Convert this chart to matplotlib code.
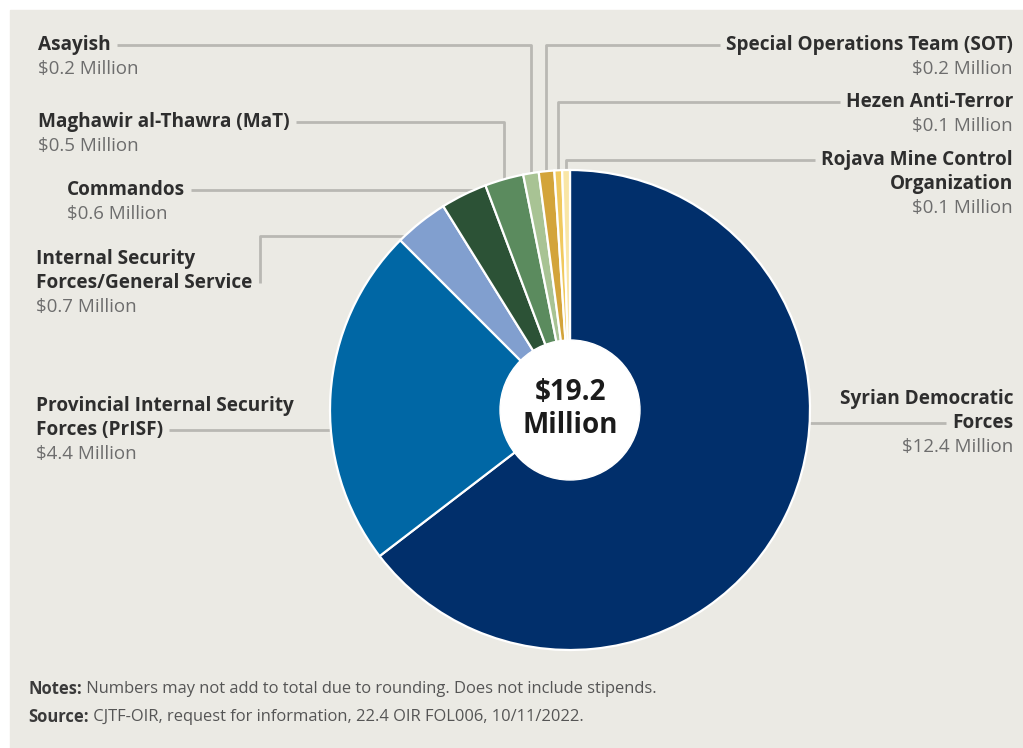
import matplotlib.pyplot as plt
from matplotlib.patches import Rectangle, Circle
import numpy as np

W, H = 1023, 748
plt.rcParams['font.family'] = ['Open Sans', 'DejaVu Sans']

# data, clockwise from the top
groups = [
    ["Syrian Democratic", "Forces"],
    ["Provincial Internal Security", "Forces (PrISF)"],
    ["Internal Security", "Forces/General Service"],
    ["Commandos"],
    ["Maghawir al-Thawra (MaT)"],
    ["Asayish"],
    ["Special Operations Team (SOT)"],
    ["Hezen Anti-Terror"],
    ["Rojava Mine Control", "Organization"],
]
values = [12.4, 4.4, 0.7, 0.6, 0.5, 0.2, 0.2, 0.1, 0.1]
total_label = "$19.2\nMillion"
colors = ["#012f6b", "#0067a5", "#819fcf", "#2c5236", "#5b8b5e",
          "#a8c394", "#d3a43a", "#f0c95e", "#f9e6a6"]

# label layout (pixels from top-left): side, x, first line y, connector kind, attach line
layout = [
    ("right", 1013, 399, "h", 1),
    ("left", 36, 406, "h", 1),
    ("left", 36, 259, "hook", 1),
    ("left", 67, 190, "h", 0),
    ("left", 38, 122, "v", 0),
    ("left", 38, 45, "v", 0),
    ("right", 1013, 45, "v", 0),
    ("right", 1013, 102, "v", 0),
    ("right", 1013, 160, "v", 0),
]
hook_y = 236
cx, cy, rad = 570, 410, 240
lh = 24

bg = "#ebeae4"
line_c = "#b9b8b3"
name_c = "#2e2e2e"
val_c = "#6d6d6d"


def Y(y):
    return H - y


fig = plt.figure(figsize=(W / 100, H / 100), dpi=100)
fig.patch.set_facecolor("white")
ax = fig.add_axes([0, 0, 1, 1])
ax.add_patch(Rectangle((10, 0), W - 10, H - 10, color=bg, zorder=0))

wedges, _ = ax.pie(values, colors=colors, startangle=90, counterclock=False,
                   center=(cx, Y(cy)), radius=rad,
                   wedgeprops=dict(edgecolor="white", linewidth=1.6))
ax.add_patch(Circle((cx, Y(cy)), 70, color="white", zorder=3))
ax.text(cx, Y(cy) + 1, total_label, ha="center", va="center", fontsize=20,
        fontweight="bold", color="#1b1b1b", linespacing=1.15, zorder=4)

ax.set_xlim(0, W)
ax.set_ylim(0, H)
ax.set_aspect("equal")
ax.axis("off")

fig.canvas.draw()
rend = fig.canvas.get_renderer()

for w, name, v, (side, x, y0, kind, att) in zip(wedges, groups, values, layout):
    ha = "left" if side == "left" else "right"
    texts = []
    for i, ln in enumerate(name):
        t = ax.text(x, Y(y0 + i * lh), ln, ha=ha, va="center", fontsize=13.7,
                    fontweight="bold", color=name_c)
        texts.append(t)
    ax.text(x, Y(y0 + len(name) * lh), f"${v} Million", ha=ha, va="center",
            fontsize=13.5, color=val_c)

    bb = texts[att].get_window_extent(rend)
    ly = y0 + att * lh
    tx = bb.x1 + 6 if side == "left" else bb.x0 - 6
    sgn = -1 if side == "left" else 1

    if kind == "h":
        ex = cx + sgn * np.sqrt(rad ** 2 - (ly - cy) ** 2)
        xs, ys = [tx, ex], [ly, ly]
    elif kind == "hook":
        ex = cx + sgn * np.sqrt(rad ** 2 - (hook_y - cy) ** 2)
        xs, ys = [tx + 2, tx + 2, ex], [ly, hook_y, hook_y]
    else:
        th = np.deg2rad((w.theta1 + w.theta2) / 2)
        px = cx + rad * np.cos(th)
        py = cy - rad * np.sin(th)
        xs, ys = [tx, px, px], [ly, ly, py]
    ax.plot(xs, [Y(k) for k in ys], color=line_c, lw=2, zorder=0.5,
            solid_capstyle="butt")

# notes and source
for yy, head, body in [(689, "Notes:", " Numbers may not add to total due to rounding. Does not include stipends."),
                       (717, "Source:", " CJTF-OIR, request for information, 22.4 OIR FOL006, 10/11/2022.")]:
    h = ax.text(28, Y(yy), head, ha="left", va="center", fontsize=11.9,
                fontweight="bold", color="#3a3a3a")
    hb = h.get_window_extent(rend)
    ax.text(hb.x1, Y(yy), body, ha="left", va="center", fontsize=11.9,
            color="#555555")

fig.savefig("out.png", dpi=100)
